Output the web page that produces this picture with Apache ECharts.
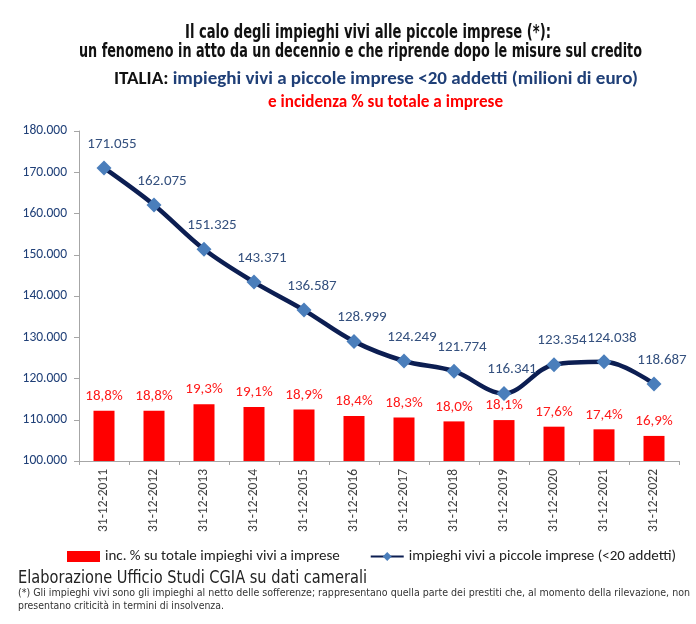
<!DOCTYPE html>
<html><head><meta charset="utf-8">
<script src="https://cdn.jsdelivr.net/npm/echarts@6/dist/echarts.min.js"></script>
<style>html,body{margin:0;padding:0;background:#fff}#c{width:696px;height:624px}</style>
</head><body><div id="c"></div>
<script>
const categories = ['31-12-2011','31-12-2012','31-12-2013','31-12-2014','31-12-2015','31-12-2016','31-12-2017','31-12-2018','31-12-2019','31-12-2020','31-12-2021','31-12-2022'];
const impieghi = [171055,162075,151325,143371,136587,128999,124249,121774,116341,123354,124038,118687];
const incidenza = [18.8,18.8,19.3,19.1,18.9,18.4,18.3,18.0,18.1,17.6,17.4,16.9];
const yTicks = {min:100000, max:180000, interval:10000};

const fmtNum = v => String(v).replace(/\B(?=(\d{3})+(?!\d))/g, '.');
const fmtPct = v => v.toFixed(1).replace('.', ',') + '%';
const F = 'Carlito, Lato, "Open Sans", sans-serif';
const N = '"DejaVu Sans Condensed", "DejaVu Sans", sans-serif';

const ctx = document.createElement('canvas').getContext('2d');
function measure(text, font){ ctx.font = font; return ctx.measureText(text).width; }
// text scaled horizontally to span a given width
function fitText(text, font, color, x, y, width, align){
  const w = measure(text, font);
  const s = width / w;
  return {type:'text', x:x, y:y, scaleX:s, scaleY:1, originX:0, originY:0, silent:true,
          style:{text:text, font:font, fill:color, textAlign:align||'left', textVerticalAlign:'middle'}};
}
function fitRich(parts, x, y, width){
  const total = parts.reduce((a,p)=>a+measure(p.text,p.font),0);
  const s = width/total;
  let cx = 0; const children=[];
  parts.forEach(p=>{
    children.push({type:'text', x:cx, y:0, style:{text:p.text, font:p.font, fill:p.color, textVerticalAlign:'middle'}});
    cx += measure(p.text,p.font);
  });
  return {type:'group', x:x, y:y, scaleX:s, silent:true, children:children};
}

const T1 = 'Il calo degli impieghi vivi alle piccole imprese (*):';
const T2 = 'un fenomeno in atto da un decennio e che riprende dopo le misure sul credito';
const T3a = 'ITALIA: ', T3b = 'impieghi vivi a piccole imprese <20 addetti (milioni di euro)';
const T4 = 'e incidenza % su totale a imprese';
const S1 = 'Elaborazione Ufficio Studi CGIA su dati camerali';
const S2 = '(*) Gli impieghi vivi sono gli impieghi al netto delle sofferenze; rappresentano quella parte dei prestiti che, al momento della rilevazione, non';
const S3 = 'presentano criticità in termini di insolvenza.';

const fT = 'bold 19px ' + N;
const fS = 'normal 18px ' + N;
const fFn = 'normal 11px ' + N;
const fB = 'bold 18px ' + F;

const chart = echarts.init(document.getElementById('c'));
chart.setOption({
  animation:false,
  graphic:[
    fitText(T1, fT, '#111', 185, 33, 366),
    fitText(T2, fT, '#111', 79, 52, 563),
    fitRich([{text:T3a,font:fB,color:'#111'},{text:T3b,font:fB,color:'#1F3F77'}], 114, 79, 524),
    fitText(T4, 'bold 18px '+F, '#FF0000', 268, 102, 235),
    fitText(S1, fS, '#222', 18, 578, 349),
    fitText(S2, fFn, '#333', 18, 593, 672),
    fitText(S3, fFn, '#333', 18, 606, 206)
  ],
  legend:{
    top:544, left:62, itemGap:30, itemWidth:33, itemHeight:11,
    textStyle:{fontFamily:F,fontSize:15,color:'#222'},
    data:[
      {name:'inc. % su totale impieghi vivi a imprese', icon:'rect'},
      {name:'impieghi vivi a piccole imprese (<20 addetti)'}
    ]
  },
  grid:{left:79, right:17, top:131, bottom:163},
  xAxis:{
    type:'category', data:categories,
    axisLine:{lineStyle:{color:'#A6A6A6'}},
    axisTick:{show:true, alignWithLabel:false, length:4, lineStyle:{color:'#A6A6A6'}},
    axisLabel:{rotate:90, fontFamily:F, fontSize:13.5, color:'#404040', margin:8}
  },
  yAxis:[
    {type:'value', min:yTicks.min, max:yTicks.max, interval:yTicks.interval,
     axisLine:{show:true,lineStyle:{color:'#A6A6A6'}},
     axisTick:{show:true,length:5,lineStyle:{color:'#A6A6A6'}},
     splitLine:{show:false},
     axisLabel:{fontFamily:F,fontSize:13.5,color:'#1F3F77',margin:12,formatter:fmtNum}},
    {type:'value', min:15, max:40, show:false, splitLine:{show:false}}
  ],
  series:[
    {name:'inc. % su totale impieghi vivi a imprese', type:'bar', yAxisIndex:1,
     data:incidenza, barWidth:'42%',
     itemStyle:{color:'#FF0000'},
     label:{show:true, position:'top', distance:7, formatter:p=>fmtPct(p.value),
            fontFamily:F, fontSize:15, color:'#FF1A1A'}},
    {name:'impieghi vivi a piccole imprese (<20 addetti)', type:'line', yAxisIndex:0,
     data:impieghi, smooth:0.35, symbol:'diamond', symbolSize:15,
     lineStyle:{color:'#0C1E52', width:4.5},
     itemStyle:{color:'#4A7EBB', borderWidth:0},
     label:{show:true, position:'top', distance:9, offset:[8,0], formatter:p=>fmtNum(p.value),
            fontFamily:F, fontSize:15, color:'#34507E'}}
  ]
});
</script></body></html>
